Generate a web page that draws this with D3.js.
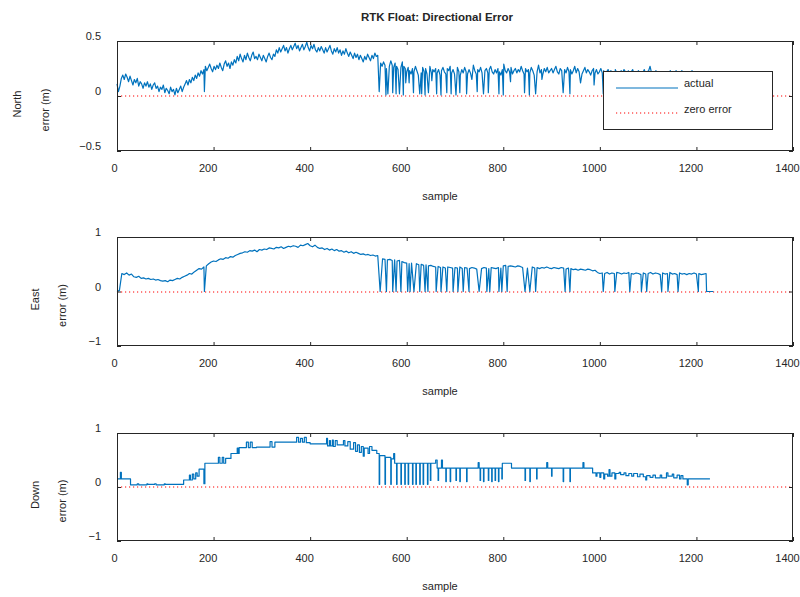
<!DOCTYPE html>
<html>
<head>
<meta charset="utf-8">
<script src="https://cdn.jsdelivr.net/npm/d3@7/dist/d3.min.js"></script>
<style>
  body { margin: 0; background: #fff; }
  svg text { font-family: "Liberation Sans", Arial, Helvetica, sans-serif; fill: #262626; }
</style>
</head>
<body>
<svg id="chart" width="800" height="597"></svg>
<script>
// ---- data -------------------------------------------------------------
// North is logged every 3 epochs, East every 5 (sample = index * step).
const northStep = 3;
const eastStep = 5;

const northBase = [
  0.11, 0.04, 0.09, 0.16, 0.19, 0.15, 0.20, 0.17, 0.13, 0.18, 0.14, 0.10, 0.15, 0.12, 0.16, 0.09, 0.13, 0.11, 0.07, 0.12,
  0.09, 0.13, 0.08, 0.11, 0.06, 0.10, 0.12, 0.07, 0.09, 0.04, 0.08, 0.06, 0.10, 0.03, 0.07, 0.05, 0.02, 0.08, 0.04, 0.06,
  0.01, 0.07, 0.03, 0.06, 0.09, 0.04, 0.08, 0.11, 0.14, 0.10, 0.15, 0.12, 0.17, 0.14, 0.19, 0.16, 0.21, 0.18, 0.23, 0.20,
  0.24, 0.27, 0.23, 0.26, 0.29, 0.25, 0.22, 0.27, 0.24, 0.28, 0.25, 0.30, 0.26, 0.23, 0.29, 0.32, 0.27, 0.30, 0.25, 0.31,
  0.28, 0.33, 0.30, 0.36, 0.32, 0.38, 0.34, 0.31, 0.37, 0.33, 0.39, 0.35, 0.32, 0.37, 0.40, 0.34, 0.36, 0.33, 0.38, 0.35,
  0.32, 0.37, 0.34, 0.31, 0.36, 0.39, 0.35, 0.33, 0.38, 0.36, 0.42, 0.39, 0.44, 0.40, 0.43, 0.46, 0.41, 0.44, 0.39, 0.43,
  0.46, 0.42, 0.45, 0.48, 0.43, 0.46, 0.41, 0.44, 0.47, 0.42, 0.45, 0.49, 0.44, 0.41, 0.46, 0.43, 0.47, 0.42, 0.40, 0.44,
  0.41, 0.45, 0.42, 0.39, 0.44, 0.40, 0.43, 0.46, 0.41, 0.38, 0.43, 0.40, 0.44, 0.39, 0.42, 0.37, 0.41, 0.38, 0.43, 0.39,
  0.36, 0.40, 0.37, 0.34, 0.39, 0.35, 0.38, 0.33, 0.37, 0.34, 0.31, 0.36, 0.33, 0.38, 0.35, 0.32, 0.37, 0.34, 0.39, 0.36,
  0.37, 0.34, 0.30, 0.27, 0.31, 0.28, 0.25, 0.30, 0.27, 0.32, 0.28, 0.26, 0.30, 0.27, 0.24, 0.29, 0.26, 0.31, 0.27, 0.25,
  0.22, 0.26, 0.23, 0.20, 0.25, 0.22, 0.27, 0.23, 0.19, 0.24, 0.21, 0.26, 0.22, 0.25, 0.20, 0.23, 0.27, 0.21, 0.24, 0.22,
  0.25, 0.21, 0.24, 0.19, 0.23, 0.26, 0.22, 0.20, 0.25, 0.23, 0.27, 0.21, 0.24, 0.20, 0.23, 0.26, 0.22, 0.19, 0.24, 0.21,
  0.26, 0.22, 0.20, 0.24, 0.21, 0.25, 0.28, 0.23, 0.20, 0.24, 0.22, 0.26, 0.21, 0.18, 0.23, 0.25, 0.21, 0.24, 0.27, 0.22,
  0.20, 0.24, 0.21, 0.25, 0.22, 0.19, 0.24, 0.29, 0.23, 0.21, 0.25, 0.22, 0.26, 0.20, 0.23, 0.25, 0.21, 0.24, 0.22, 0.27,
  0.23, 0.20, 0.25, 0.22, 0.24, 0.21, 0.26, 0.23, 0.19, 0.24, 0.22, 0.28, 0.21, 0.24, 0.20, 0.25, 0.22, 0.26, 0.21, 0.23,
  0.25, 0.21, 0.24, 0.27, 0.22, 0.20, 0.25, 0.23, 0.19, 0.24, 0.21, 0.26, 0.22, 0.24, 0.20, 0.23, 0.27, 0.21, 0.25, 0.22,
  0.24, 0.20, 0.23, 0.26, 0.21, 0.24, 0.22, 0.19, 0.23, 0.25, 0.21, 0.24, 0.20, 0.22, 0.25, 0.21, 0.23, 0.20, 0.22, 0.24,
  0.21, 0.23, 0.20, 0.22, 0.24, 0.21, 0.22, 0.20, 0.23, 0.21, 0.24, 0.22, 0.20, 0.23, 0.21, 0.22, 0.24, 0.20, 0.22, 0.21,
  0.23, 0.20, 0.22, 0.21, 0.24, 0.20, 0.22, 0.23, 0.27, 0.21, 0.22, 0.20, 0.23, 0.21, 0.22, 0.20, 0.23, 0.21, 0.22, 0.20,
  0.22, 0.21, 0.23, 0.20, 0.22, 0.21, 0.23, 0.20, 0.22, 0.21, 0.23, 0.20, 0.22, 0.21, 0.20, 0.22, 0.21, 0.23, 0.20, 0.22,
  0.21, 0.20, 0.22, 0.19, 0.21, 0.20, 0.22, 0.21, 0.03, 0.00, 0.00, 0.00, 0.00
];

// [sample, value] epochs where the float solution briefly collapses
const northDrops = [
  [181, 0.04], [543, 0.04], [557, 0.01], [561, 0.02], [571, 0.03], [578, 0.02], [585, 0.02], [593, 0.01],
  [598, 0.12], [605, 0.12], [614, 0.03], [627, 0.02], [631, 0.02], [638, 0.01], [645, 0.03], [652, 0.14],
  [662, 0.02], [671, 0.01], [683, 0.03], [692, 0.02], [702, 0.01], [710, 0.03], [724, 0.02], [735, 0.15],
  [746, 0.04], [759, 0.02], [769, 0.03], [791, 0.02], [800, 0.01], [815, 0.13], [844, 0.03], [854, 0.01],
  [867, 0.02], [880, 0.15], [924, 0.03], [938, 0.02], [960, 0.12], [988, 0.10],
  [1007, 0.02], [1031, 0.02], [1062, 0.03], [1086, 0.02], [1097, 0.03], [1128, 0.02], [1141, 0.03],
  [1162, 0.02], [1204, 0.03], [1221, 0.02]
];

const eastBase = [
  0.00, 0.02, 0.33, 0.31, 0.34, 0.30, 0.32, 0.27, 0.26, 0.28, 0.24, 0.25, 0.23, 0.24, 0.22, 0.23, 0.21, 0.22, 0.20, 0.19,
  0.20, 0.18, 0.21, 0.20, 0.22, 0.24, 0.23, 0.26, 0.28, 0.30, 0.33, 0.32, 0.36, 0.39, 0.42, 0.41, 0.45, 0.47, 0.51, 0.54,
  0.56, 0.55, 0.58, 0.60, 0.59, 0.62, 0.61, 0.64, 0.63, 0.66, 0.68, 0.70, 0.71, 0.73, 0.72, 0.75, 0.74, 0.76, 0.73, 0.77,
  0.76, 0.78, 0.77, 0.80, 0.79, 0.78, 0.81, 0.80, 0.82, 0.79, 0.81, 0.83, 0.82, 0.84, 0.83, 0.81, 0.85, 0.84, 0.86, 0.88,
  0.84, 0.82, 0.85, 0.81, 0.79, 0.80, 0.77, 0.79, 0.76, 0.78, 0.75, 0.77, 0.74, 0.75, 0.72, 0.74, 0.71, 0.73, 0.70, 0.72,
  0.70, 0.68, 0.69, 0.67, 0.68, 0.66, 0.67, 0.65, 0.66, 0.62, 0.60, 0.59, 0.58, 0.59, 0.57, 0.58, 0.56, 0.57, 0.55, 0.53,
  0.52, 0.51, 0.52, 0.50, 0.51, 0.49, 0.50, 0.48, 0.49, 0.47, 0.48, 0.46, 0.45, 0.46, 0.44, 0.45, 0.43, 0.45, 0.44, 0.43,
  0.44, 0.43, 0.45, 0.42, 0.44, 0.43, 0.42, 0.44, 0.43, 0.41, 0.43, 0.42, 0.44, 0.43, 0.42, 0.44, 0.43, 0.42, 0.44, 0.43,
  0.47, 0.48, 0.46, 0.47, 0.46, 0.45, 0.47, 0.46, 0.44, 0.45, 0.43, 0.44, 0.45, 0.43, 0.44, 0.42, 0.44, 0.43, 0.45, 0.43,
  0.42, 0.44, 0.43, 0.42, 0.44, 0.43, 0.41, 0.43, 0.42, 0.40, 0.41, 0.39, 0.41, 0.40, 0.39, 0.41, 0.40, 0.38, 0.39, 0.35,
  0.33, 0.34, 0.33, 0.35, 0.32, 0.34, 0.33, 0.35, 0.34, 0.32, 0.34, 0.33, 0.35, 0.33, 0.32, 0.34, 0.33, 0.31, 0.34, 0.32,
  0.33, 0.35, 0.32, 0.34, 0.33, 0.31, 0.34, 0.32, 0.33, 0.35, 0.32, 0.33, 0.31, 0.34, 0.32, 0.33, 0.31, 0.33, 0.32, 0.34,
  0.32, 0.33, 0.31, 0.32, 0.33, 0.00, 0.00, 0.00
];

const eastDrops = [
  [181, 0.0], [545, 0.0], [558, 0.0], [571, 0.0], [578, 0.0], [588, 0.0], [602, 0.0], [607, 0.0],
  [615, 0.0], [627, 0.0], [638, 0.0], [644, 0.0], [661, 0.0], [671, 0.0], [683, 0.0], [696, 0.0],
  [706, 0.0], [717, 0.0], [729, 0.0], [750, 0.0], [766, 0.0], [772, 0.0], [791, 0.0], [797, 0.0],
  [808, 0.0], [845, 0.0], [855, 0.0], [867, 0.0], [928, 0.0], [938, 0.0], [1007, 0.0], [1031, 0.0],
  [1062, 0.0], [1086, 0.0], [1097, 0.0], [1128, 0.0], [1141, 0.0], [1162, 0.0], [1204, 0.0], [1221, 0.0]
];

// Down error is held between updates: [sample, value] at each change
const downSteps = [
  [0, 0.15], [7, 0.27], [9, 0.15], [28, 0.04], [42, 0.06], [45, 0.04], [62, 0.06], [64, 0.05], [78, 0.06],
  [81, 0.04], [98, 0.06], [100, 0.05], [138, 0.13], [150, 0.22], [152, 0.13], [156, 0.24], [159, 0.15],
  [163, 0.26], [166, 0.20], [170, 0.33], [180, 0.06], [182, 0.44], [210, 0.55], [213, 0.44], [218, 0.55],
  [221, 0.44], [225, 0.53], [236, 0.62], [249, 0.72], [251, 0.62], [253, 0.73], [268, 0.83], [272, 0.73],
  [276, 0.83], [280, 0.73], [289, 0.74], [317, 0.84], [321, 0.74], [327, 0.83], [372, 0.92], [376, 0.83],
  [380, 0.90], [384, 0.83], [388, 0.92], [392, 0.82], [400, 0.80], [434, 0.90], [436, 0.76], [440, 0.86],
  [442, 0.76], [446, 0.87], [448, 0.75], [452, 0.86], [456, 0.78], [469, 0.86], [472, 0.76], [478, 0.84],
  [483, 0.70], [490, 0.82], [494, 0.66], [498, 0.78], [502, 0.64], [506, 0.75], [510, 0.57], [512, 0.72],
  [520, 0.62], [523, 0.75], [528, 0.68], [538, 0.62], [543, 0.05], [544, 0.58], [555, 0.05], [556, 0.55],
  [567, 0.05], [568, 0.52], [573, 0.62], [575, 0.44], [579, 0.05], [580, 0.44], [588, 0.05], [589, 0.44],
  [596, 0.05], [597, 0.44], [603, 0.05], [604, 0.44], [612, 0.05], [613, 0.44], [619, 0.05], [620, 0.44],
  [627, 0.05], [628, 0.44], [634, 0.05], [635, 0.44], [643, 0.05], [644, 0.44], [649, 0.12], [650, 0.44],
  [660, 0.50], [663, 0.35], [665, 0.12], [666, 0.35], [672, 0.50], [674, 0.35], [681, 0.10], [682, 0.35],
  [690, 0.10], [691, 0.35], [702, 0.12], [703, 0.35], [710, 0.10], [711, 0.35], [724, 0.10], [725, 0.35],
  [748, 0.45], [750, 0.35], [752, 0.12], [753, 0.35], [759, 0.10], [760, 0.35], [769, 0.12], [770, 0.35],
  [776, 0.10], [777, 0.35], [783, 0.12], [784, 0.35], [790, 0.10], [791, 0.35], [797, 0.15], [798, 0.44],
  [817, 0.35], [845, 0.12], [846, 0.35], [855, 0.10], [856, 0.35], [869, 0.15], [870, 0.35], [890, 0.45],
  [892, 0.35], [900, 0.20], [901, 0.35], [924, 0.10], [925, 0.35], [938, 0.10], [939, 0.35], [965, 0.45],
  [967, 0.35], [985, 0.26], [992, 0.20], [994, 0.26], [1000, 0.18], [1002, 0.26], [1008, 0.15], [1010, 0.24],
  [1016, 0.20], [1019, 0.32], [1021, 0.20], [1025, 0.26], [1031, 0.15], [1033, 0.25], [1040, 0.27],
  [1043, 0.23], [1050, 0.26], [1054, 0.21], [1060, 0.25], [1066, 0.20], [1070, 0.25], [1078, 0.19],
  [1083, 0.24], [1090, 0.19], [1095, 0.13], [1097, 0.21], [1104, 0.18], [1110, 0.22], [1115, 0.17],
  [1125, 0.22], [1128, 0.17], [1138, 0.26], [1141, 0.20], [1150, 0.24], [1153, 0.17], [1160, 0.22],
  [1165, 0.15], [1168, 0.21], [1172, 0.15], [1181, 0.04], [1183, 0.15], [1228, 0.15]
];

const xTickValues = [0, 200, 400, 600, 800, 1000, 1200, 1400];
const northTickValues = [-0.5, 0, 0.5];
const unitTickValues = [-1, 0, 1];

const titleText = "RTK Float: Directional Error";
const panelNames = ["North", "East", "Down"];
const legendLabels = ["actual", "zero error"];

// ---- helpers ----------------------------------------------------------
function mergeSeries(base, step, drops) {
  const dropSet = new Set(drops.map(d => d[0]));
  const pts = base.map((v, i) => ({ s: i * step, v }))
    .filter(p => !dropSet.has(p.s))
    .concat(drops.map(d => ({ s: d[0], v: d[1] })));
  return pts.sort((a, b) => a.s - b.s);
}

const series = [
  { name: panelNames[0], pts: mergeSeries(northBase, northStep, northDrops), domain: [-0.5, 0.5], ticks: northTickValues,
    curve: d3.curveLinear, top: 41, bottom: 151, labelX: [17, 45] },
  { name: panelNames[1], pts: mergeSeries(eastBase, eastStep, eastDrops), domain: [-1, 1], ticks: unitTickValues,
    curve: d3.curveLinear, top: 237, bottom: 346, labelX: [35, 62] },
  { name: panelNames[2], pts: downSteps.map(d => ({ s: d[0], v: d[1] })), domain: [-1, 1], ticks: unitTickValues,
    curve: d3.curveStepAfter, top: 433, bottom: 541, labelX: [35, 62] }
];

const svg = d3.select("#chart");
const left = 117, right = 793;
const x = d3.scaleLinear().domain([0, 1400]).range([left, right]);
const blue = "#0072BD";
const axisColor = "#262626";
const fontSize = 11;

svg.append("text")
  .attr("x", 437).attr("y", 17)
  .attr("text-anchor", "middle").attr("dominant-baseline", "central")
  .style("font-size", "11.5px").style("font-weight", "bold")
  .text(titleText);

series.forEach((p, idx) => {
  const y = d3.scaleLinear().domain(p.domain).range([p.bottom, p.top]);
  const g = svg.append("g");
  const y0 = Math.round(y(0));

  // zero reference
  g.append("line")
    .attr("x1", x(0)).attr("x2", x(1400))
    .attr("y1", y0).attr("y2", y0)
    .attr("stroke", "#ff0000").attr("stroke-width", 1)
    .attr("stroke-dasharray", "1.2,2.8");

  // measured error
  const line = d3.line().x(d => x(d.s)).y(d => y(d.v)).curve(p.curve);
  g.append("path")
    .datum(p.pts)
    .attr("fill", "none")
    .attr("stroke", blue)
    .attr("stroke-width", 1.2)
    .attr("stroke-linejoin", "round")
    .attr("d", line);

  // axes with inward ticks on all four sides
  const bottomAxis = d3.axisBottom(x).tickValues(xTickValues).tickSizeInner(-4).tickSizeOuter(0)
    .tickFormat(d3.format("d"));
  const topAxis = d3.axisTop(x).tickValues(xTickValues).tickSizeInner(-4).tickSizeOuter(0).tickFormat("");
  const leftAxis = d3.axisLeft(y).tickValues(p.ticks).tickSizeInner(-4).tickSizeOuter(0).tickPadding(16)
    .tickFormat(d3.format("~g"));
  const rightAxis = d3.axisRight(y).tickValues(p.ticks).tickSizeInner(-4).tickSizeOuter(0).tickFormat("");

  const gb = g.append("g").attr("transform", `translate(0,${p.bottom})`).call(bottomAxis);
  const gt = g.append("g").attr("transform", `translate(0,${p.top})`).call(topAxis);
  const gl = g.append("g").attr("transform", `translate(${left},0)`).call(leftAxis);
  const gr = g.append("g").attr("transform", `translate(${right},0)`).call(rightAxis);

  [gb, gt, gl, gr].forEach(a => {
    a.select(".domain").remove();
    a.selectAll(".tick line").attr("stroke", axisColor).attr("stroke-width", 1);
    a.selectAll("text").style("font-size", fontSize + "px").style("font-family", null).attr("fill", axisColor);
  });
  gb.selectAll("text").attr("y", 13).attr("dy", "0.71em").attr("dx", d => (d === 0 ? -3 : -6));
  gl.selectAll("text").attr("dy", "-0.13em");

  // frame
  g.append("rect")
    .attr("x", left + 0.5).attr("y", p.top + 0.5)
    .attr("width", right - left - 1).attr("height", p.bottom - p.top - 1)
    .attr("fill", "none").attr("stroke", axisColor).attr("stroke-width", 1);

  // axis titles
  g.append("text")
    .attr("x", 440).attr("y", p.bottom + 45)
    .attr("text-anchor", "middle").attr("dominant-baseline", "central")
    .style("font-size", fontSize + "px")
    .text("sample");

  const midY = (p.top + p.bottom) / 2 + 12;
  [p.name, "error (m)"].forEach((t, k) => {
    g.append("text")
      .attr("transform", `translate(${p.labelX[k]},${midY + (k === 0 ? -4 : 2)}) rotate(-90)`)
      .attr("text-anchor", "middle").attr("dominant-baseline", "central")
      .style("font-size", fontSize + "px")
      .text(t);
  });

  // legend in the first panel
  if (idx === 0) {
    const lg = g.append("g");
    lg.append("rect")
      .attr("x", 603.5).attr("y", 71.5).attr("width", 169).attr("height", 58)
      .attr("fill", "#fff").attr("stroke", axisColor).attr("stroke-width", 1);
    lg.append("line").attr("x1", 616).attr("x2", 678).attr("y1", 88).attr("y2", 88)
      .attr("stroke", blue).attr("stroke-width", 1.2);
    lg.append("line").attr("x1", 616).attr("x2", 678).attr("y1", 113).attr("y2", 113)
      .attr("stroke", "#ff0000").attr("stroke-width", 1).attr("stroke-dasharray", "1.2,2.8");
    legendLabels.forEach((t, k) => {
      lg.append("text")
        .attr("x", 684).attr("y", k === 0 ? 83 : 109)
        .attr("dominant-baseline", "central")
        .style("font-size", fontSize + "px")
        .text(t);
    });
  }
});
</script>
</body>
</html>
